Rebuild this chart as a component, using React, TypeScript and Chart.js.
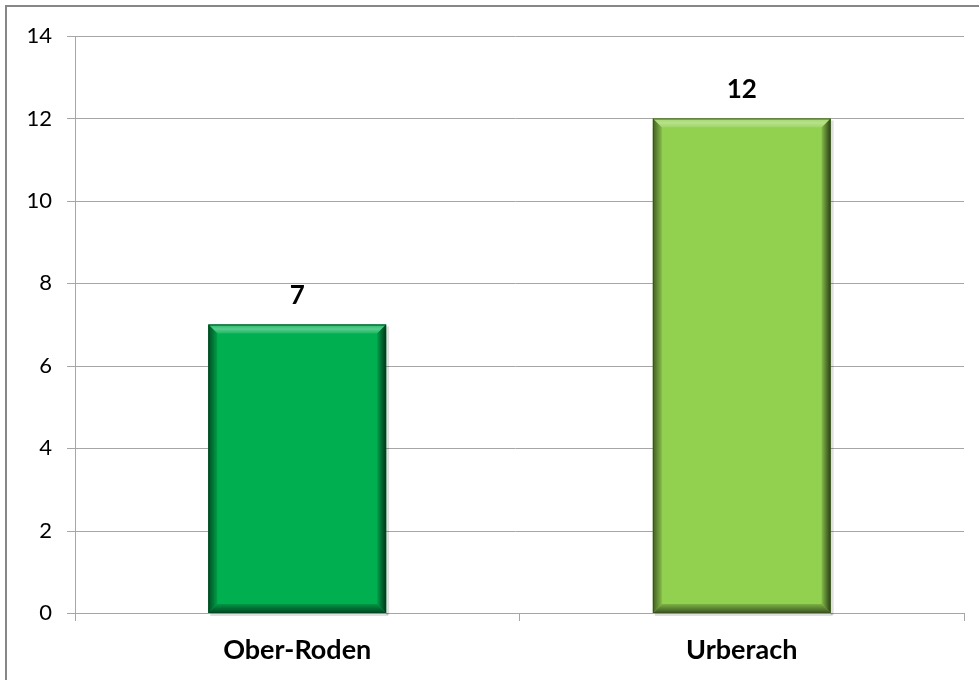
import React, { useEffect, useRef } from "react";
import { Chart, registerables } from "chart.js";

Chart.register(...registerables);

const categories = ["Ober-Roden", "Urberach"];
const values = [7, 12];
const barColors = ["#00B050", "#92D050"];
const yTicks = [0, 2, 4, 6, 8, 10, 12, 14];

const FONT = "Lato, 'Open Sans', sans-serif";
const GRID = "#a6a6a6";

function shade(hex: string, f: number): string {
  const n = parseInt(hex.slice(1), 16);
  let r = (n >> 16) & 255, g = (n >> 8) & 255, b = n & 255;
  if (f >= 0) {
    r = Math.round(r + (255 - r) * f);
    g = Math.round(g + (255 - g) * f);
    b = Math.round(b + (255 - b) * f);
  } else {
    r = Math.round(r * (1 + f));
    g = Math.round(g * (1 + f));
    b = Math.round(b * (1 + f));
  }
  return `rgb(${r},${g},${b})`;
}

const framePlugin = {
  id: "frame",
  beforeDraw(chart: any) {
    const ctx = chart.ctx;
    ctx.save();
    ctx.fillStyle = "#ffffff";
    ctx.fillRect(0, 0, chart.width, chart.height);
    ctx.fillStyle = "#878787";
    ctx.fillRect(5, 5, chart.width - 5, 2);
    ctx.fillRect(5, 5, 2, chart.height - 5);
    ctx.restore();
  },
  beforeDatasetsDraw(chart: any) {
    const ctx = chart.ctx;
    const ys = chart.scales.y;
    const xs = chart.scales.x;
    ctx.save();
    ctx.strokeStyle = GRID;
    ctx.lineWidth = 1;
    yTicks.forEach((v) => {
      const py = Math.round(ys.getPixelForValue(v)) + 0.5;
      ctx.beginPath();
      ctx.moveTo(xs.left - 8, py);
      ctx.lineTo(xs.right, py);
      ctx.stroke();
    });
    ctx.restore();
  },
};

const bevelPlugin = {
  id: "bevel",
  afterDatasetsDraw(chart: any) {
    const ctx = chart.ctx;
    const meta = chart.getDatasetMeta(0);
    meta.data.forEach((bar: any, i: number) => {
      const base = barColors[i];
      const w = bar.width;
      const l = bar.x - w / 2;
      const r = bar.x + w / 2;
      const t = bar.y;
      const b = bar.base;
      const s = 9;
      ctx.save();
      ctx.fillStyle = "rgba(0,0,0,0.12)";
      ctx.fillRect(l + 2, b, w, 3);
      ctx.fillRect(r, t + 2, 3, b - t);
      const gt = ctx.createLinearGradient(0, t, 0, t + s);
      gt.addColorStop(0, shade(base, 0.15));
      gt.addColorStop(0.5, shade(base, 0.35));
      gt.addColorStop(1, shade(base, 0.1));
      ctx.fillStyle = gt;
      ctx.beginPath();
      ctx.moveTo(l, t); ctx.lineTo(r, t); ctx.lineTo(r - s, t + s); ctx.lineTo(l + s, t + s); ctx.closePath();
      ctx.fill();
      const gl = ctx.createLinearGradient(l, 0, l + s, 0);
      gl.addColorStop(0, shade(base, -0.55));
      gl.addColorStop(1, shade(base, -0.1));
      ctx.fillStyle = gl;
      ctx.beginPath();
      ctx.moveTo(l, t); ctx.lineTo(l + s, t + s); ctx.lineTo(l + s, b - s); ctx.lineTo(l, b); ctx.closePath();
      ctx.fill();
      const gr = ctx.createLinearGradient(r - s, 0, r, 0);
      gr.addColorStop(0, shade(base, -0.1));
      gr.addColorStop(1, shade(base, -0.7));
      ctx.fillStyle = gr;
      ctx.beginPath();
      ctx.moveTo(r, t); ctx.lineTo(r, b); ctx.lineTo(r - s, b - s); ctx.lineTo(r - s, t + s); ctx.closePath();
      ctx.fill();
      const gb = ctx.createLinearGradient(0, b - s, 0, b);
      gb.addColorStop(0, shade(base, -0.15));
      gb.addColorStop(1, shade(base, -0.6));
      ctx.fillStyle = gb;
      ctx.beginPath();
      ctx.moveTo(l, b); ctx.lineTo(l + s, b - s); ctx.lineTo(r - s, b - s); ctx.lineTo(r, b); ctx.closePath();
      ctx.fill();
      ctx.strokeStyle = shade(base, -0.6);
      ctx.lineWidth = 1;
      ctx.strokeRect(l + 0.5, t + 0.5, w - 1, b - t - 1);
      ctx.fillStyle = "#000000";
      ctx.font = `bold 26px ${FONT}`;
      ctx.textAlign = "center";
      ctx.textBaseline = "middle";
      ctx.fillText(String(values[i]), bar.x, t - 29);
      ctx.restore();
    });
  },
};

export default function App() {
  const ref = useRef<HTMLCanvasElement | null>(null);
  useEffect(() => {
    if (!ref.current) return;
    const chart = new Chart(ref.current, {
      type: "bar",
      data: {
        labels: categories,
        datasets: [
          {
            data: values,
            backgroundColor: barColors,
            borderWidth: 0,
            barPercentage: 0.4,
            categoryPercentage: 1,
          },
        ],
      },
      options: {
        animation: false,
        responsive: false,
        maintainAspectRatio: false,
        layout: { padding: { left: 0, right: 15, top: 36, bottom: 0 } },
        plugins: { legend: { display: false }, tooltip: { enabled: false } },
        scales: {
          x: {
            grid: {
              display: true,
              offset: true,
              drawOnChartArea: false,
              drawTicks: true,
              tickLength: 8,
              color: GRID,
            },
            border: { display: true, color: GRID },
            ticks: {
              color: "#000000",
              font: { family: FONT, size: 27, weight: "bold" },
              padding: 13,
            },
            afterFit(scale: any) {
              scale.height = 67;
            },
          },
          y: {
            min: 0,
            max: 14,
            afterBuildTicks(scale: any) {
              scale.ticks = yTicks.map((v) => ({ value: v }));
            },
            grid: {
              display: false,
            },
            border: { display: true, color: GRID },
            ticks: {
              color: "#000000",
              font: { family: FONT, size: 22 },
              padding: 15,
            },
            afterFit(scale: any) {
              scale.width = 75;
            },
          },
        },
      },
      plugins: [framePlugin, bevelPlugin],
    });
    return () => chart.destroy();
  }, []);
  return (
    <div style={{ position: "fixed", left: 0, top: 0, width: 979, height: 680 }}>
      <canvas ref={ref} width={979} height={680} style={{ width: 979, height: 680, display: "block" }} />
    </div>
  );
}
